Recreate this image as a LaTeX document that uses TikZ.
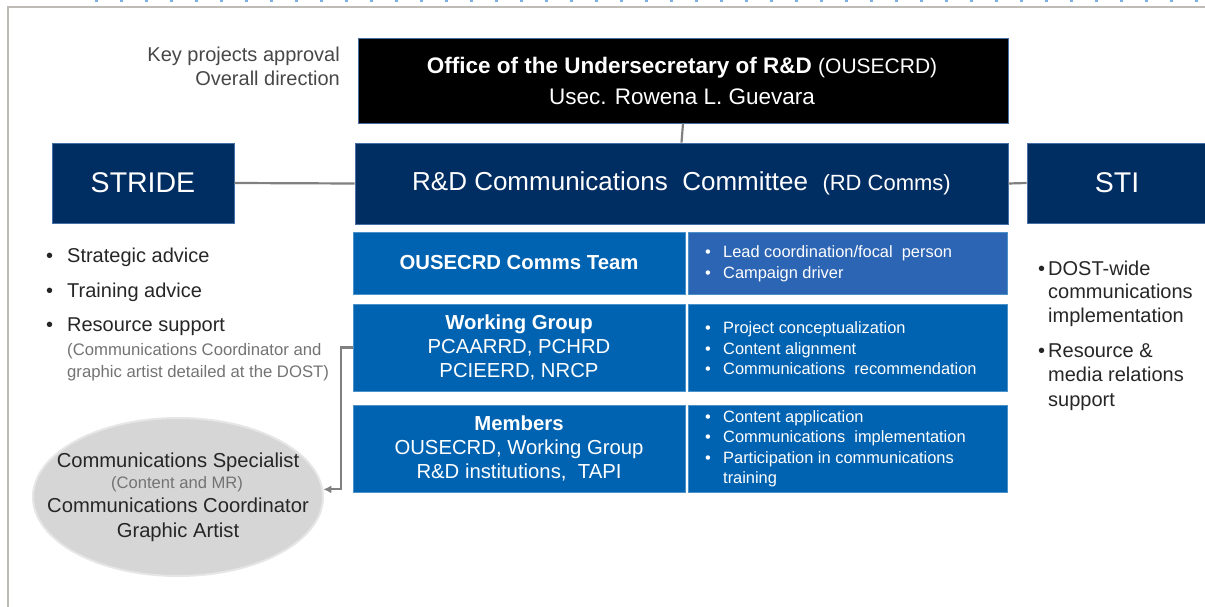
\documentclass[tikz,border=0pt]{standalone}
\usepackage{fontspec}
\setmainfont{Liberation Sans}
\usetikzlibrary{arrows.meta,shapes.geometric,calc}
\definecolor{navy}{RGB}{0,45,98}
\definecolor{navyedge}{RGB}{70,110,165}
\definecolor{rowblue}{RGB}{0,99,177}
\definecolor{rowlight}{RGB}{44,101,180}
\definecolor{txt}{RGB}{38,38,38}
\definecolor{subtxt}{RGB}{115,115,115}
\definecolor{conn}{RGB}{128,128,128}
\definecolor{framec}{RGB}{190,186,181}
\definecolor{ellc}{RGB}{214,214,214}
\definecolor{topdash}{RGB}{125,175,225}
\newcommand{\bul}[1]{\makebox[#1][l]{•}}
\tikzset{
  box/.style={draw=navyedge, line width=0.8pt, inner sep=0pt, text=white, align=center},
  navybox/.style={box, fill=navy},
  cellL/.style={box, fill=rowblue, draw=rowblue!70!white, minimum width=332pt, font=\fontsize{20.3}{24}\selectfont},
  cellR/.style={box, fill=rowblue, draw=rowblue!70!white, minimum width=319pt},
  celltext/.style={anchor=west, inner sep=0pt, text=white, align=left, font=\fontsize{16.4}{20.5}\selectfont},
  lbl/.style={anchor=base west, inner sep=0pt, text=txt, font=\fontsize{20}{22}\selectfont},
  sublbl/.style={anchor=base west, inner sep=0pt, text=subtxt, font=\fontsize{16.7}{18}\selectfont},
  elltext/.style={anchor=base, inner sep=0pt, text=txt, font=\fontsize{20.2}{22}\selectfont},
  connector/.style={draw=conn, line width=2.2pt}
}
\begin{document}
\begin{tikzpicture}[x=1pt,y=-1pt]
\useasboundingbox (0,0) rectangle (1205,607);
% frame
\draw[framec, line width=1.5pt] (1205,7) -- (8,7) -- (8,607);
\draw[topdash, line width=1.5pt, dash pattern=on 3pt off 22pt] (95,0.8) -- (1205,0.8);

% top office
\node[box, fill=black, minimum width=650pt, minimum height=85pt] (usec) at (683,80.5) {};
\node[anchor=base, inner sep=0pt, text=white, font=\fontsize{22.5}{26}\selectfont] (usec1) at (682,74)
  {\textbf{Office of the Undersecretary of R\&D} {\fontsize{21}{26}\selectfont(OUSECRD)}};
\node[anchor=base, inner sep=0pt, text=white, font=\fontsize{22.5}{26}\selectfont] (usec2) at (682,104.5)
  {Usec. Rowena L. Guevara};
\node[anchor=base east, inner sep=0pt, text=txt!85, font=\fontsize{20}{22}\selectfont] (kp1) at (340,62) {Key projects approval};
\node[anchor=base east, inner sep=0pt, text=txt!85, font=\fontsize{20}{22}\selectfont] (kp2) at (340,86) {Overall direction};

% main row
\node[navybox, minimum width=653pt, minimum height=81pt] (rdc) at (681.5,183.5)
  {\fontsize{26}{30}\selectfont R\&D Communications\ \ Committee\ \ {\fontsize{22}{30}\selectfont(RD Comms)}};
\node[navybox, minimum width=182pt, minimum height=80pt, font=\fontsize{28.5}{32}\selectfont] (stride) at (143,183) {STRIDE};
\node[navybox, minimum width=180pt, minimum height=80pt, font=\fontsize{28.5}{32}\selectfont] (sti) at (1117,183) {STI};

\draw[connector] (stride.east) -- (rdc.west);
\draw[connector] (rdc.east) -- (sti.west);
\draw[connector] (usec.south) -- (rdc.north);

% rows
\node[cellL, minimum height=62pt] (teamL) at (519,263) {\textbf{OUSECRD Comms Team}};
\node[cellR, minimum height=62pt, fill=rowlight] (teamR) at (847.5,263) {};
\node[celltext] (teamT) at (705,264) {\bul{18pt}Lead coordination/focal\ \ person\\ \bul{18pt}Campaign driver};

\node[cellL, minimum height=87pt] (wgL) at (519,347.5) {\textbf{Working Group}\\PCAARRD, PCHRD\\PCIEERD, NRCP};
\node[cellR, minimum height=87pt] (wgR) at (847.5,347.5) {};
\node[celltext] (wgT) at (705,348.5) {\bul{18pt}Project conceptualization\\ \bul{18pt}Content alignment\\ \bul{18pt}Communications\ \ recommendation};

\node[cellL, minimum height=87pt] (memL) at (519,448.5) {\textbf{Members}\\OUSECRD, Working Group\\R\&D institutions,\ \ TAPI};
\node[cellR, minimum height=87pt] (memR) at (847.5,448.5) {};
\node[celltext] (memT) at (705,449) {\bul{18pt}Content application\\ \bul{18pt}Communications\ \ implementation\\ \bul{18pt}Participation in communications\\ \hspace*{18pt}training};

% left list
\node[lbl] (s1) at (46,262) {\bul{21pt}Strategic advice};
\node[lbl] (s2) at (46,297) {\bul{21pt}Training advice};
\node[lbl] (s3) at (46,331) {\bul{21pt}Resource support};
\node[sublbl] (s4) at (67,355.5) {(Communications Coordinator and};
\node[sublbl] (s5) at (67,377.5) {graphic artist detailed at the DOST)};

% ellipse
\node[ellipse, fill=ellc, draw=ellc!60!white, line width=2pt, minimum width=290pt, minimum height=158pt] (cs) at (178,497) {};
\node[elltext] (cs1) at (178,467) {Communications Specialist};
\node[elltext, text=subtxt, font=\fontsize{16.6}{18}\selectfont] (cs2) at (177,488) {(Content and MR)};
\node[elltext] (cs3) at (178,512) {Communications Coordinator};
\node[elltext] (cs4) at (178,537) {Graphic Artist};
\draw[connector, -{Latex[length=8pt,width=8pt]}] (wgL.west) -- ++(-12,0) |- (cs.3);

% STI list
\node[lbl] (t1) at (1038,275) {\bul{10pt}DOST-wide};
\node[lbl] (t2) at (1048,298) {communications};
\node[lbl] (t3) at (1048,322) {implementation};
\node[lbl] (t4) at (1038,357) {\bul{10pt}Resource \&};
\node[lbl] (t5) at (1048,381) {media relations};
\node[lbl] (t6) at (1048,406) {support};
\end{tikzpicture}
\end{document}
